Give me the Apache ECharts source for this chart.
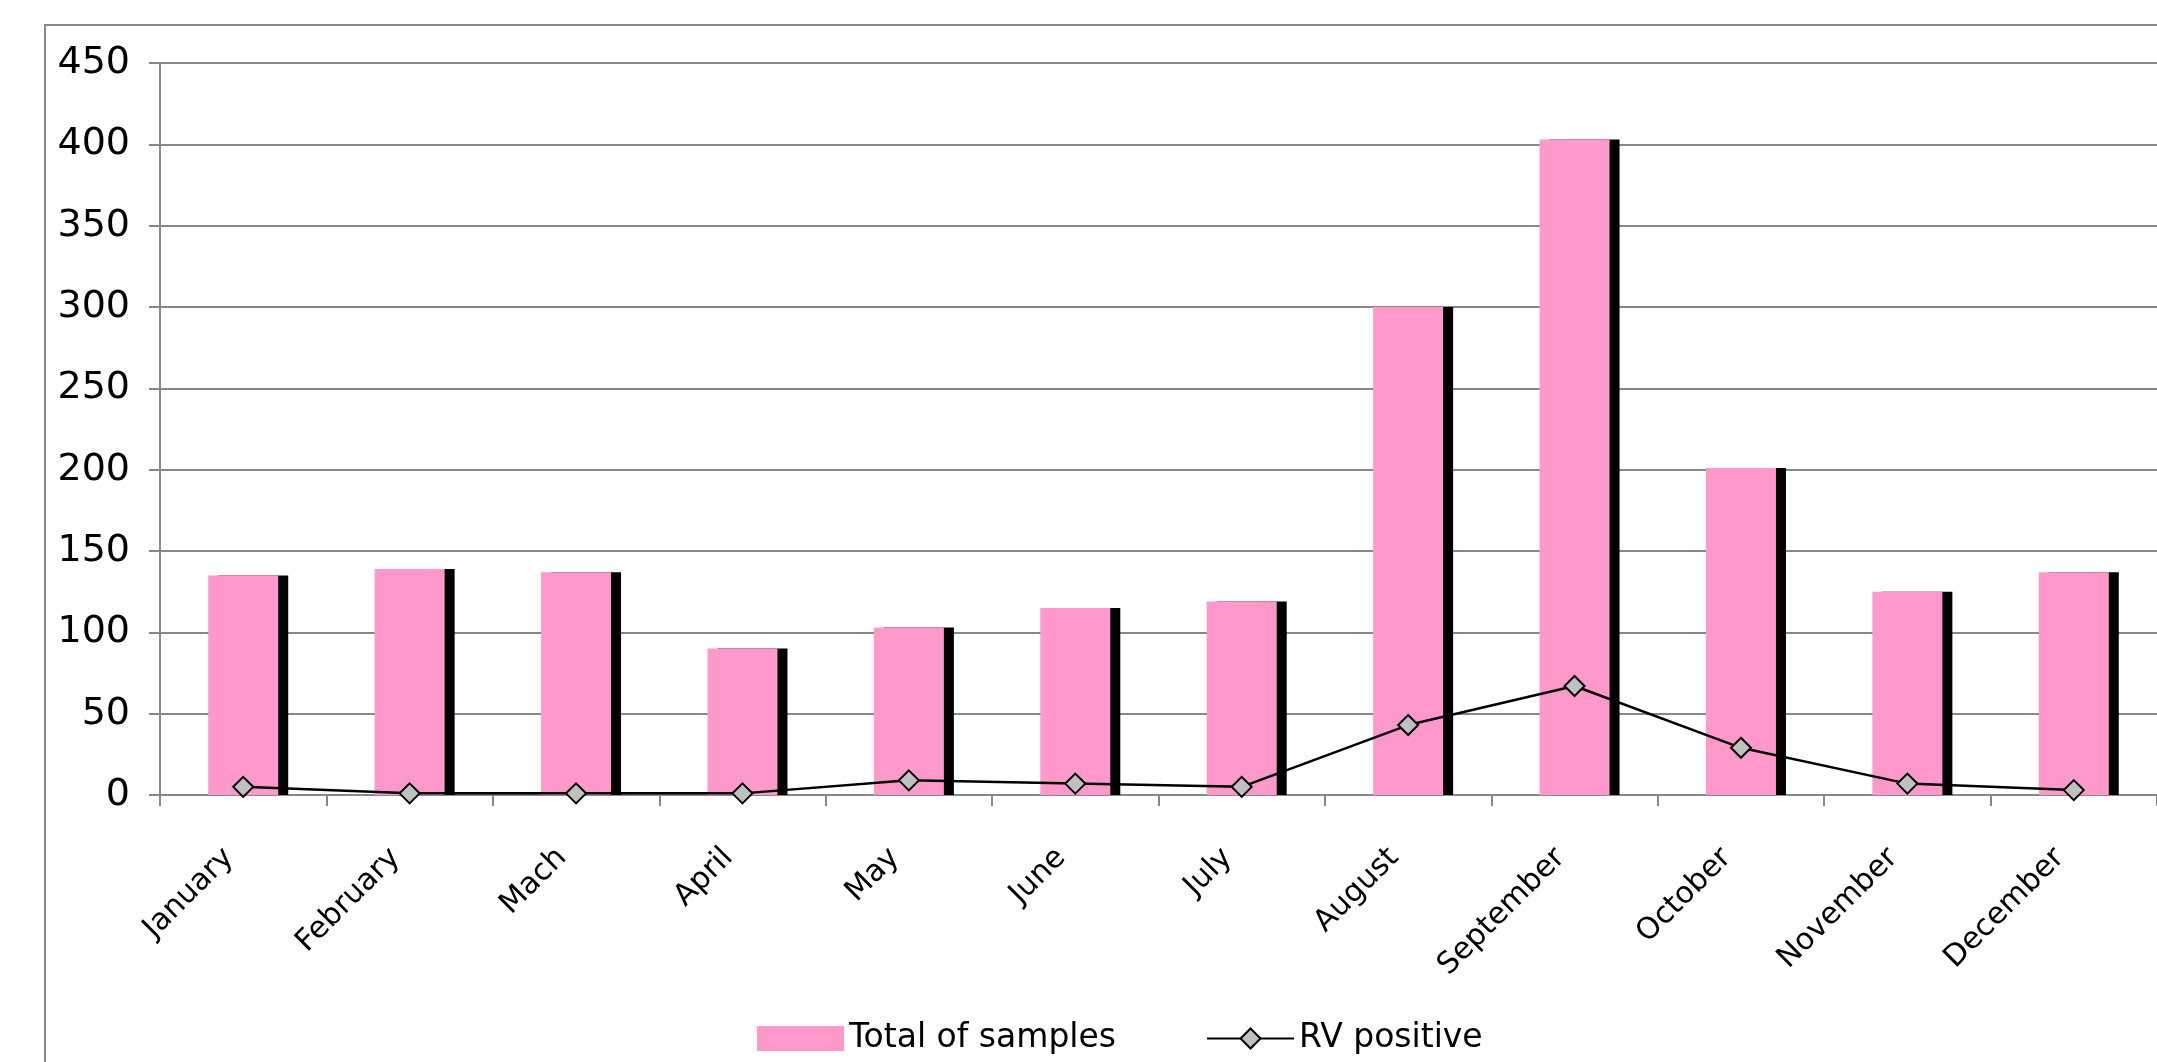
<!DOCTYPE html>
<html>
<head>
<meta charset="utf-8">
<script src="https://cdn.jsdelivr.net/npm/echarts@6/dist/echarts.min.js"></script>
<style>
  html, body { margin: 0; padding: 0; background: #fff; }
  #chart { width: 2157px; height: 1062px; }
</style>
</head>
<body>
<div id="chart"></div>
<script>
var months = ['January', 'February', 'Mach', 'April', 'May', 'June', 'July',
    'August', 'September', 'October', 'November', 'December'];
var totalSamples = [135, 139, 137, 90, 103, 115, 119, 300, 403, 201, 125, 137];
var rvPositive = [5, 1, 1, 1, 9, 7, 5, 43, 67, 29, 7, 3];

var yTicks = { min: 0, max: 450, interval: 50 };

var font = 'DejaVu Sans';

var option = {
    animation: false,
    backgroundColor: '#fff',
    textStyle: { fontFamily: font },
    graphic: [
        {
            type: 'rect',
            shape: { x: 45, y: 25, width: 2200, height: 1100 },
            style: { fill: 'none', stroke: '#888', lineWidth: 2 },
            z: -10
        }
    ],
    grid: {
        left: 160,
        top: 63,
        right: -16,
        bottom: 267,
        containLabel: false
    },
    legend: {
        left: 752,
        bottom: 2,
        itemWidth: 87,
        itemHeight: 25,
        itemGap: 90,
        textStyle: { fontFamily: font, fontSize: 33, color: '#000' },
        data: [
            { name: 'Total of samples', icon: 'rect' },
            { name: 'RV positive' }
        ]
    },
    xAxis: {
        type: 'category',
        data: months,
        axisLine: { lineStyle: { color: '#888', width: 2 } },
        axisTick: { show: true, length: 11, lineStyle: { color: '#888', width: 2 } },
        axisLabel: {
            rotate: 45,
            interval: 0,
            margin: 44,
            padding: [0, 20, 0, 0],
            color: '#000',
            fontSize: 30,
            fontFamily: font
        }
    },
    yAxis: {
        type: 'value',
        min: yTicks.min,
        max: yTicks.max,
        interval: yTicks.interval,
        axisLine: { show: true, lineStyle: { color: '#888', width: 2 } },
        axisTick: { show: true, length: 11, lineStyle: { color: '#888', width: 2 } },
        splitLine: { lineStyle: { color: '#888', width: 2 } },
        axisLabel: {
            margin: 30,
            color: '#000',
            fontSize: 38,
            fontFamily: font
        }
    },
    series: [
        {
            name: 'Total of samples',
            type: 'bar',
            data: totalSamples,
            barWidth: 70,
            itemStyle: {
                color: '#ff99cc',
                shadowColor: '#000',
                shadowBlur: 0,
                shadowOffsetX: 10,
                shadowOffsetY: 0
            }
        },
        {
            name: 'RV positive',
            type: 'line',
            data: rvPositive,
            symbol: 'diamond',
            symbolSize: 20,
            lineStyle: { color: '#000', width: 2.5 },
            itemStyle: { color: '#c0c0c0', borderColor: '#000', borderWidth: 2 },
            z: 5
        }
    ]
};

var myChart = echarts.init(document.getElementById('chart'));
myChart.setOption(option);
</script>
</body>
</html>
